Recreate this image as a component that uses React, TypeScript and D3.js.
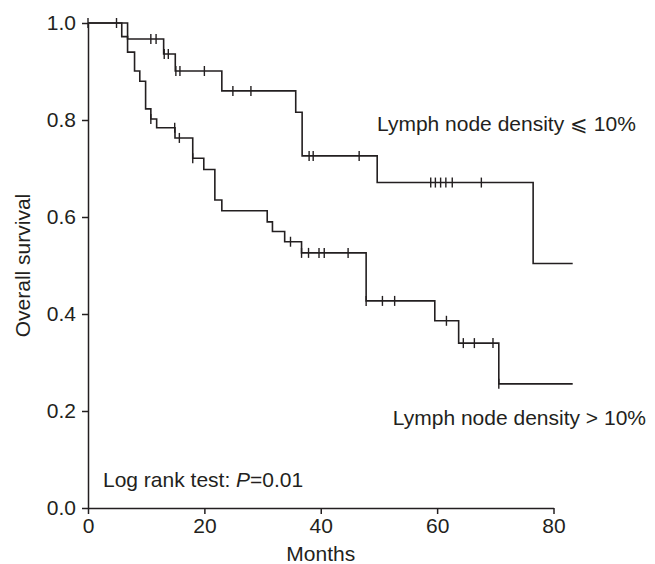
import React, { useEffect, useRef } from "react";
import * as d3 from "d3";

// step events: [months, survival after the drop]
const lowDensitySteps: [number, number][] = [
  [6.8, 0.967],
  [13, 0.936],
  [15, 0.901],
  [23, 0.86],
  [35.7, 0.816],
  [36.8, 0.726],
  [49.7, 0.671],
  [76.5, 0.504],
];
const lowDensityCensored: number[] = [
  0, 4.9, 10.8, 11.7, 13.1, 13.8, 15.1, 15.8, 20, 24.9, 28, 38, 38.7, 46.6,
  58.9, 59.7, 60.6, 61.5, 62.6, 67.6,
];

const highDensitySteps: [number, number][] = [
  [5.8, 0.972],
  [6.8, 0.94],
  [8, 0.901],
  [8.9, 0.88],
  [9.9, 0.823],
  [10.8, 0.802],
  [11.8, 0.784],
  [14.95, 0.763],
  [18, 0.721],
  [19.9, 0.698],
  [21.8, 0.635],
  [23, 0.613],
  [30.8, 0.59],
  [31.7, 0.57],
  [33.8, 0.549],
  [36.7, 0.526],
  [47.8, 0.427],
  [59.6, 0.386],
  [63.7, 0.34],
  [70.6, 0.256],
];
const highDensityCensored: number[] = [
  10.8, 14.9, 15.7, 18, 34.8, 36.7, 37.9, 39.7, 40.6, 44.7, 47.8, 50.6, 52.7,
  61.6, 64.5, 66.4, 69.6, 70.6,
];

const followUpEnd = 83.3;
const xTicks = [0, 20, 40, 60, 80];
const yTicks = [0, 0.2, 0.4, 0.6, 0.8, 1.0];

const ink = "#231f20";
const font = "'Liberation Sans', Arial, Helvetica, sans-serif";

// survival at time t for a step curve
function survivalAt(steps: [number, number][], t: number) {
  let s = 1;
  for (const [time, value] of steps) {
    if (time <= t) s = value;
  }
  return s;
}

function KaplanMeierChart() {
  const ref = useRef<SVGSVGElement>(null);

  useEffect(() => {
    const svg = d3.select(ref.current).attr("width", 655).attr("height", 564);
    svg.selectAll("*").remove();

    const x = d3.scaleLinear().domain([0, 80]).range([88, 553.5]);
    const y = d3.scaleLinear().domain([0, 1]).range([508, 23]);

    // axes
    const xAxis = svg
      .append("g")
      .attr("transform", `translate(0,${y(0)})`)
      .call(d3.axisBottom(x).tickValues(xTicks).tickSize(6).tickSizeOuter(0).tickPadding(4).tickFormat(d3.format("d")));
    const yAxis = svg
      .append("g")
      .attr("transform", `translate(${x(0)},0)`)
      .call(d3.axisLeft(y).tickValues(yTicks).tickSize(6).tickSizeOuter(0).tickPadding(6).tickFormat(d3.format(".1f")));

    [xAxis, yAxis].forEach((a) => {
      a.select(".domain").attr("stroke", ink).attr("stroke-width", 1.5);
      a.selectAll(".tick line").attr("stroke", ink).attr("stroke-width", 1.5);
      a.selectAll(".tick text")
        .attr("fill", ink)
        .style("font-family", font)
        .style("font-size", "21px");
    });

    const line = d3
      .line<[number, number]>()
      .x((d) => x(d[0]))
      .y((d) => y(d[1]))
      .curve(d3.curveStepAfter);

    const curves = [
      { steps: lowDensitySteps, censored: lowDensityCensored },
      { steps: highDensitySteps, censored: highDensityCensored },
    ];

    curves.forEach(({ steps, censored }) => {
      const pts: [number, number][] = [[0, 1], ...steps, [followUpEnd, steps[steps.length - 1][1]]];
      svg
        .append("path")
        .attr("d", line(pts))
        .attr("fill", "none")
        .attr("stroke", ink)
        .attr("stroke-width", 1.6);

      svg
        .append("g")
        .selectAll("line")
        .data(censored)
        .enter()
        .append("line")
        .attr("x1", (d) => x(d))
        .attr("x2", (d) => x(d))
        .attr("y1", (d) => y(survivalAt(steps, d)) - 5)
        .attr("y2", (d) => y(survivalAt(steps, d)) + 5)
        .attr("stroke", ink)
        .attr("stroke-width", 1.4);
    });

    const text = (tx: number, ty: number, s: string, anchor = "start") =>
      svg
        .append("text")
        .attr("x", tx)
        .attr("y", ty)
        .attr("text-anchor", anchor)
        .attr("dominant-baseline", "central")
        .attr("fill", ink)
        .style("font-family", font)
        .style("font-size", "21px")
        .text(s);

    text(377, 123, "Lymph node density ⩽ 10%");
    text(646, 417, "Lymph node density > 10%", "end");

    const logRank = text(103, 479, "Log rank test: ");
    logRank.append("tspan").style("font-style", "italic").text("P");
    logRank.append("tspan").text("=0.01");

    text((x(0) + x(80)) / 2, 553, "Months", "middle");

    svg
      .append("text")
      .attr("transform", `translate(22,${(y(0) + y(1)) / 2}) rotate(-90)`)
      .attr("text-anchor", "middle")
      .attr("dominant-baseline", "central")
      .attr("fill", ink)
      .style("font-family", font)
      .style("font-size", "21px")
      .text("Overall survival");
  }, []);

  return <svg ref={ref} style={{ display: "block", position: "absolute", left: 0, top: 0 }} />;
}

export default function App() {
  return <KaplanMeierChart />;
}
